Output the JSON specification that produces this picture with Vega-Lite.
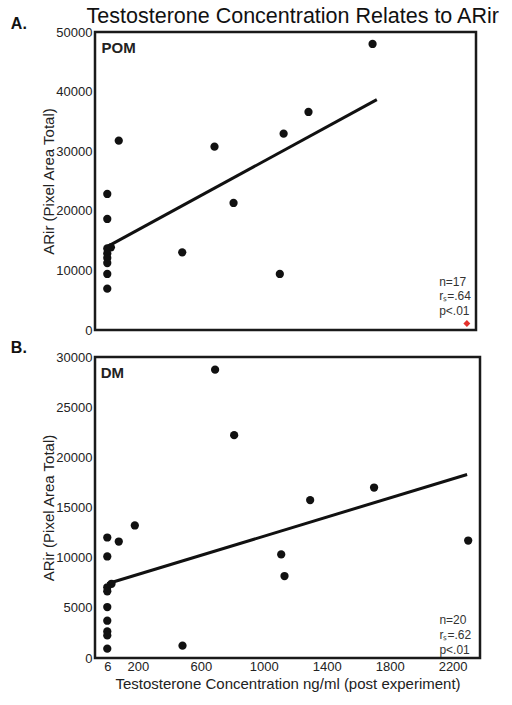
{
  "$schema": "https://vega.github.io/schema/vega-lite/v6.json",
  "background": "white",
  "padding": {"left": 9, "top": 6, "right": 5, "bottom": 5},
  "title": {
    "text": "Testosterone Concentration Relates to ARir",
    "anchor": "start",
    "frame": "bounds",
    "dx": 77,
    "offset": -13,
    "fontSize": 21.5,
    "fontWeight": "normal",
    "font": "Liberation Sans",
    "color": "#111111"
  },
  "config": {
    "font": "Liberation Sans",
    "view": {"stroke": "#1a1a1a", "strokeWidth": 2.5},
    "axis": {
      "grid": false,
      "domain": false,
      "ticks": false,
      "labelFont": "Liberation Sans",
      "labelFontSize": 13,
      "labelColor": "#222222",
      "labelFlush": false,
      "labelPadding": 3,
      "titleFont": "Liberation Sans",
      "titleFontSize": 15,
      "titleFontWeight": "normal",
      "titleColor": "#222222"
    }
  },
  "resolve": {"scale": {"x": "independent", "y": "independent"}},
  "spacing": -1,
  "datasets": {
    "pom": [
      {"testosterone": 1691, "arir": 47990},
      {"testosterone": 1284, "arir": 36580},
      {"testosterone": 1126, "arir": 32940},
      {"testosterone": 687, "arir": 30760},
      {"testosterone": 79, "arir": 31770},
      {"testosterone": 808, "arir": 21310},
      {"testosterone": 482, "arir": 13030},
      {"testosterone": 1102, "arir": 9400},
      {"testosterone": 29, "arir": 13870},
      {"testosterone": 6, "arir": 22820},
      {"testosterone": 6, "arir": 18630},
      {"testosterone": 6, "arir": 13680},
      {"testosterone": 6, "arir": 12840},
      {"testosterone": 6, "arir": 12080},
      {"testosterone": 6, "arir": 11240},
      {"testosterone": 6, "arir": 9400},
      {"testosterone": 6, "arir": 6930}
    ],
    "pomFit": [
      {"testosterone": 6, "arir": 14000},
      {"testosterone": 1718, "arir": 38650}
    ],
    "pomOutlier": [
      {"testosterone": 2290, "arir": 1100}
    ],
    "pomLabel": [
      {"testosterone": -30, "arir": 47320, "label": "POM"}
    ],
    "pomStats": [
      {"testosterone": 2114, "arir": 8004, "label": "n=17"},
      {"testosterone": 2114, "arir": 5756, "label": "rₛ=.64"},
      {"testosterone": 2114, "arir": 3239, "label": "p<.01"}
    ],
    "dm": [
      {"testosterone": 691, "arir": 28740},
      {"testosterone": 812, "arir": 22210},
      {"testosterone": 1701, "arir": 16990},
      {"testosterone": 1295, "arir": 15740},
      {"testosterone": 2299, "arir": 11710},
      {"testosterone": 1111, "arir": 10320},
      {"testosterone": 1132, "arir": 8170},
      {"testosterone": 181, "arir": 13210},
      {"testosterone": 79, "arir": 11610},
      {"testosterone": 33, "arir": 7400},
      {"testosterone": 484, "arir": 1225},
      {"testosterone": 6, "arir": 12010},
      {"testosterone": 6, "arir": 10120},
      {"testosterone": 6, "arir": 7050},
      {"testosterone": 6, "arir": 6650},
      {"testosterone": 6, "arir": 5080},
      {"testosterone": 6, "arir": 3715},
      {"testosterone": 6, "arir": 2650},
      {"testosterone": 6, "arir": 2250},
      {"testosterone": 6, "arir": 926}
    ],
    "dmFit": [
      {"testosterone": 6, "arir": 7400},
      {"testosterone": 2292, "arir": 18290}
    ],
    "dmLabel": [
      {"testosterone": -36, "arir": 28390, "label": "DM"}
    ],
    "dmStats": [
      {"testosterone": 2116, "arir": 3745, "label": "n=20"},
      {"testosterone": 2116, "arir": 2320, "label": "rₛ=.62"},
      {"testosterone": 2116, "arir": 757, "label": "p<.01"}
    ]
  },
  "vconcat": [
    {
      "width": 381,
      "height": 298,
      "title": {"text": "A.", "anchor": "start", "frame": "bounds", "dx": -31, "fontSize": 16, "fontWeight": "bold", "offset": -6, "color": "#111111"},
      "layer": [
        {
          "data": {"name": "pomFit"},
          "mark": {"type": "line", "color": "#111111", "strokeWidth": 3},
          "encoding": {
            "x": {"field": "testosterone", "type": "quantitative", "scale": {"domain": [-72, 2348], "nice": false, "zero": false}, "axis": null},
            "y": {"field": "arir", "type": "quantitative", "scale": {"domain": [0, 50000], "nice": false}, "axis": {"values": [0, 10000, 20000, 30000, 40000, 50000], "format": "d", "title": "ARir (Pixel Area Total)", "titlePadding": -1}}
          }
        },
        {
          "data": {"name": "pom"},
          "mark": {"type": "circle", "color": "#111111", "opacity": 1, "size": 68},
          "encoding": {
            "x": {"field": "testosterone", "type": "quantitative"},
            "y": {"field": "arir", "type": "quantitative"}
          }
        },
        {
          "data": {"name": "pomOutlier"},
          "mark": {"type": "point", "shape": "diamond", "filled": true, "color": "#e4312b", "opacity": 1, "size": 48},
          "encoding": {
            "x": {"field": "testosterone", "type": "quantitative"},
            "y": {"field": "arir", "type": "quantitative"}
          }
        },
        {
          "data": {"name": "pomLabel"},
          "mark": {"type": "text", "align": "left", "baseline": "middle", "fontSize": 15, "fontWeight": "bold", "color": "#222222"},
          "encoding": {
            "x": {"field": "testosterone", "type": "quantitative"},
            "y": {"field": "arir", "type": "quantitative"},
            "text": {"field": "label"}
          }
        },
        {
          "data": {"name": "pomStats"},
          "mark": {"type": "text", "align": "left", "baseline": "middle", "fontSize": 12, "color": "#333333"},
          "encoding": {
            "x": {"field": "testosterone", "type": "quantitative"},
            "y": {"field": "arir", "type": "quantitative"},
            "text": {"field": "label"}
          }
        }
      ]
    },
    {
      "width": 385,
      "height": 301,
      "title": {"text": "B.", "anchor": "start", "frame": "bounds", "dx": -31, "fontSize": 16, "fontWeight": "bold", "offset": -5, "color": "#111111"},
      "layer": [
        {
          "data": {"name": "dmFit"},
          "mark": {"type": "line", "color": "#111111", "strokeWidth": 3},
          "encoding": {
            "x": {"field": "testosterone", "type": "quantitative", "scale": {"domain": [-72, 2374], "nice": false, "zero": false}, "axis": {"values": [6, 200, 600, 1000, 1400, 1800, 2200], "format": "d", "title": "Testosterone Concentration ng/ml (post experiment)", "labelPadding": 2, "titlePadding": 3}},
            "y": {"field": "arir", "type": "quantitative", "scale": {"domain": [0, 30000], "nice": false}, "axis": {"values": [0, 5000, 10000, 15000, 20000, 25000, 30000], "format": "d", "title": "ARir (Pixel Area Total)", "titlePadding": -1}}
          }
        },
        {
          "data": {"name": "dm"},
          "mark": {"type": "circle", "color": "#111111", "opacity": 1, "size": 68},
          "encoding": {
            "x": {"field": "testosterone", "type": "quantitative"},
            "y": {"field": "arir", "type": "quantitative"}
          }
        },
        {
          "data": {"name": "dmLabel"},
          "mark": {"type": "text", "align": "left", "baseline": "middle", "fontSize": 15, "fontWeight": "bold", "color": "#222222"},
          "encoding": {
            "x": {"field": "testosterone", "type": "quantitative"},
            "y": {"field": "arir", "type": "quantitative"},
            "text": {"field": "label"}
          }
        },
        {
          "data": {"name": "dmStats"},
          "mark": {"type": "text", "align": "left", "baseline": "middle", "fontSize": 12, "color": "#333333"},
          "encoding": {
            "x": {"field": "testosterone", "type": "quantitative"},
            "y": {"field": "arir", "type": "quantitative"},
            "text": {"field": "label"}
          }
        }
      ]
    }
  ]
}
